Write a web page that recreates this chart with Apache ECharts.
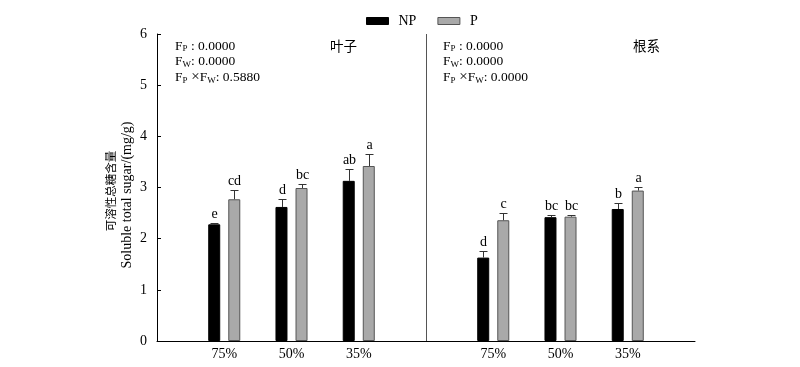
<!DOCTYPE html>
<html><head><meta charset="utf-8">
<script src="https://cdn.jsdelivr.net/npm/echarts@6/dist/echarts.min.js"></script>
<style>html,body{margin:0;padding:0;background:#fff}#c{width:800px;height:367px}</style>
</head><body><div id="c"></div>
<script>
var categories = ["", "75%", "50%", "35%", "", "75%", "50%", "35%", ""];
var npValues = ["-", 2.28, 2.62, 3.13, "-", 1.63, 2.42, 2.58, "-"];
var pValues  = ["-", 2.77, 2.99, 3.42, "-", 2.36, 2.43, 2.94, "-"];
var npErr = [null, 0.03, 0.15, 0.24, null, 0.13, 0.05, 0.11, null];
var pErr  = [null, 0.18, 0.07, 0.23, null, 0.15, 0.04, 0.07, null];
var npLetters = ["", "e", "d", "ab", "", "d", "bc", "b", ""];
var pLetters  = ["", "cd", "bc", "a", "", "c", "bc", "a", ""];
var dividerIndex = 4;
var panelTitles = ["叶子", "根系"];
var leafStats = ["0.0000", "0.0000", "0.5880"];
var rootStats = ["0.0000", "0.0000", "0.0000"];

var serif = "Liberation Serif";
var chart = echarts.init(document.getElementById('c'), null, {renderer: 'canvas'});

function errData(vals, errs) {
  var out = [];
  for (var i = 0; i < vals.length; i++) {
    if (vals[i] === "-") continue;
    out.push([i, vals[i], errs[i]]);
  }
  return out;
}
function makeRender(letters, off) {
  return function (params, api) {
    var i = api.value(0), v = api.value(1), e = api.value(2);
    var base = api.coord([i, v]);
    var top = api.coord([i, v + e]);
    var x = Math.round(base[0] + off) + 0.5;
    var ty = Math.round(top[1]) + 0.5;
    return {
      type: 'group',
      children: [
        {type: 'line', shape: {x1: x, y1: base[1], x2: x, y2: ty}, style: {stroke: '#333', lineWidth: 1}},
        {type: 'line', shape: {x1: x - 4, y1: ty, x2: x + 4, y2: ty}, style: {stroke: '#333', lineWidth: 1}},
        {type: 'text', x: x, y: ty - 2, style: {text: letters[i], fill: '#000', font: '14px "' + serif + '"', align: 'center', verticalAlign: 'bottom'}}
      ]
    };
  };
}
function renderDivider(params, api) {
  var a = api.coord([api.value(0), 0]);
  var b = api.coord([api.value(0), 6]);
  var x = Math.round(a[0]) + 0.5;
  return {type: 'line', shape: {x1: x, y1: a[1], x2: x, y2: b[1]}, style: {stroke: '#555', lineWidth: 1}};
}
function statText(x, y, vals) {
  var rich = {
    n: {fontFamily: serif, fontSize: 13.5, fill: '#000'},
    x: {fontFamily: serif, fontSize: 15, fill: '#000'},
    s: {fontFamily: serif, fontSize: 9, fill: '#000', padding: [6, 0, 0, 0]}
  };
  var lines = [
    '{n|F}{s|P}{n| : ' + vals[0] + '}',
    '{n|F}{s|W}{n|: ' + vals[1] + '}',
    '{n|F}{s|P}{x| ×}{n|F}{s|W}{n|: ' + vals[2] + '}'
  ];
  return lines.map(function (t, k) {
    return {type: 'text', left: x, top: y + k * 15.5, style: {text: t, rich: rich, fill: '#000'}};
  });
}

var graphics = []
  .concat(statText(175, 39, leafStats))
  .concat(statText(443, 39, rootStats))
  .concat([
    {type: 'text', left: 330, top: 39, style: {text: panelTitles[0], font: '13.5px "Noto Sans CJK SC"', fill: '#000'}},
    {type: 'text', left: 633, top: 39, style: {text: panelTitles[1], font: '13.5px "Noto Sans CJK SC"', fill: '#000'}},
    {type: 'text', x: 111, y: 191, rotation: Math.PI / 2, style: {text: '可溶性总糖含量', font: '11.5px "Noto Sans CJK SC"', fill: '#000', align: 'center', verticalAlign: 'middle'}},
    {type: 'text', x: 127, y: 195, rotation: Math.PI / 2, style: {text: 'Soluble total sugar/(mg/g)', font: '14px "' + serif + '"', fill: '#000', align: 'center', verticalAlign: 'middle'}}
  ]);

chart.setOption({
  animation: false,
  backgroundColor: '#fff',
  legend: {
    top: 9, left: 361,
    icon: 'rect',
    itemWidth: 22, itemHeight: 7, itemGap: 21,
    textStyle: {fontFamily: serif, fontSize: 14, color: '#000', padding: [0, 0, 0, 5]},
    data: [
      {name: 'NP', itemStyle: {color: '#000', borderColor: '#000', borderWidth: 1}},
      {name: 'P', itemStyle: {color: '#a9a9a9', borderColor: '#555', borderWidth: 1}}
    ]
  },
  grid: {left: 157, right: 105, top: 34, bottom: 26, containLabel: false},
  xAxis: {
    type: 'category', data: categories, boundaryGap: false,
    axisLine: {lineStyle: {color: '#000', width: 1}},
    axisTick: {show: false},
    axisLabel: {interval: 0, margin: 6, fontFamily: serif, fontSize: 14, color: '#000'},
    splitLine: {show: false}
  },
  yAxis: {
    type: 'value', min: 0, max: 6, interval: 1,
    axisLine: {show: true, lineStyle: {color: '#000', width: 1}},
    axisTick: {show: true, inside: true, length: 4, lineStyle: {color: '#000'}},
    axisLabel: {margin: 10, fontFamily: serif, fontSize: 14, color: '#000'},
    splitLine: {show: false}
  },
  graphic: graphics,
  series: [
    {name: 'NP', type: 'bar', data: npValues, barWidth: 12, barGap: '67%',
     itemStyle: {color: '#000', borderColor: '#000', borderWidth: 1}},
    {name: 'P', type: 'bar', data: pValues, barWidth: 12,
     itemStyle: {color: '#a9a9a9', borderColor: '#555', borderWidth: 1}},
    {type: 'custom', renderItem: makeRender(npLetters, -10), data: errData(npValues, npErr), z: 5, silent: true},
    {type: 'custom', renderItem: makeRender(pLetters, 10), data: errData(pValues, pErr), z: 5, silent: true},
    {type: 'custom', renderItem: renderDivider, data: [[dividerIndex]], z: 1, silent: true}
  ]
});
</script></body></html>
